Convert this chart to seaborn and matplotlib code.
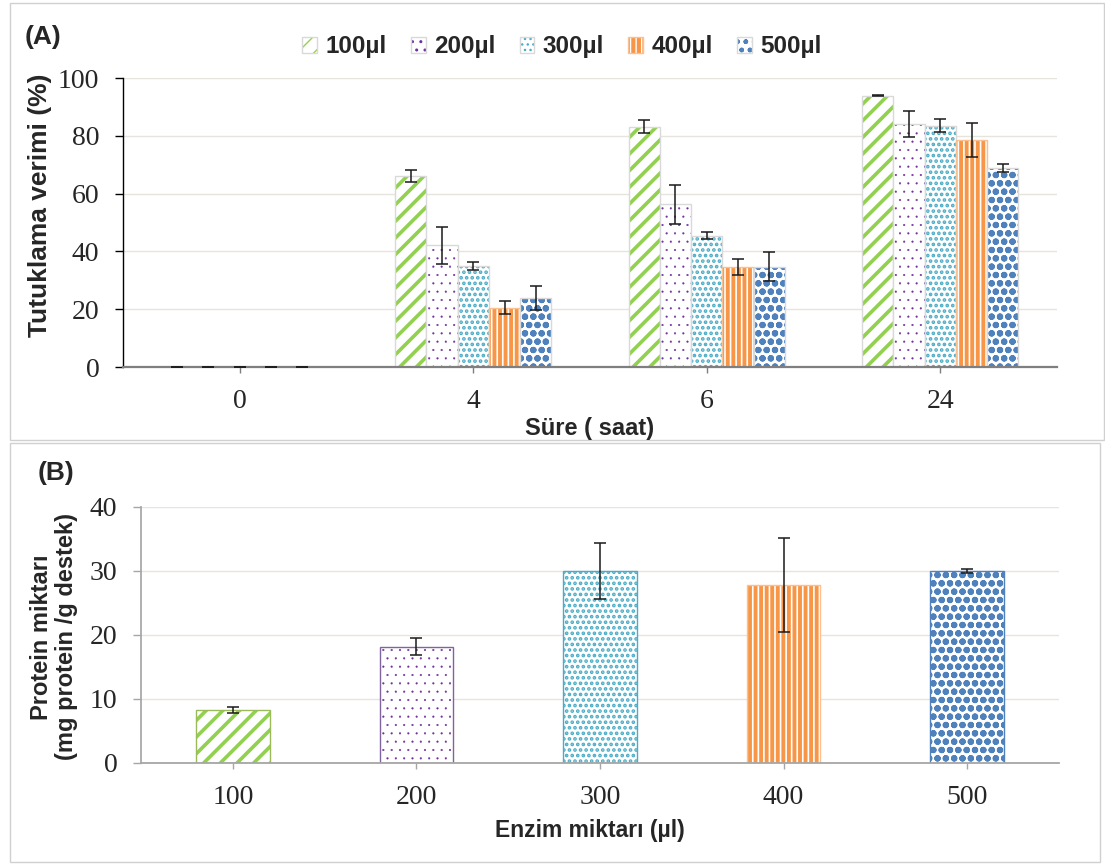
import matplotlib
matplotlib.use("Agg")
import matplotlib.pyplot as plt
import seaborn as sns
import pandas as pd
import numpy as np
from matplotlib.colors import to_rgba
from matplotlib.patches import Patch, Rectangle

# ---------------- data ----------------
times = ["0", "4", "6", "24"]
doses = ["100µl", "200µl", "300µl", "400µl", "500µl"]
y100 = [0, 66.0, 83.1, 93.9]
y200 = [0, 42.2, 56.3, 84.1]
y300 = [0, 35.0, 45.4, 83.5]
y400 = [0, 20.5, 34.7, 78.5]
y500 = [0, 23.8, 34.7, 68.8]
e100 = [0, 2.0, 2.3, 0.3]
e200 = [0, 6.4, 6.8, 4.4]
e300 = [0, 1.5, 1.2, 2.3]
e400 = [0, 2.2, 2.7, 5.8]
e500 = [0, 4.1, 5.1, 1.3]

enzyme = ["100", "200", "300", "400", "500"]
protein = [8.3, 18.2, 30.0, 27.8, 30.0]
protein_err = [0.5, 1.3, 4.3, 7.3, 0.35]

yields = [y100, y200, y300, y400, y500]
errs = [e100, e200, e300, e400, e500]

# ---------------- styles ----------------
# face, hatch, hatch colour, edge (A), edge (B), hatch linewidth
styles = [
    ("white", "//", "#92D050", "#D9D9D9", "#9BBB59", 2.6),
    ("white", "..", "#7030A0", "#D9D9D9", "#8064A2", 0.3),
    ("white", "...", "#4BACC6", "#D9D9D9", "#4BACC6", 1.8),
    ("#F79646", "|||", "white", "#FAC090", "#FAC090", 1.2),
    ("white", "oo..", "#4F81BD", "#D9D9D9", "#4F81BD", 2.2),
]


def style_patch(p, st, panel):
    face, hatch, hcol, eA, eB, hlw = st
    p.set_facecolor(face)
    p.set_edgecolor(eA if panel == "A" else eB)
    p.set_linewidth(1.0)
    p.set_hatch(hatch)
    if hasattr(p, "set_hatchcolor"):
        p.set_hatchcolor(hcol)
    else:
        p._hatch_color = to_rgba(hcol)
    if hasattr(p, "set_hatch_linewidth"):
        p.set_hatch_linewidth(hlw)
    else:
        p._hatch_linewidth = hlw


sns.set_theme(style="white")
plt.rcParams["font.family"] = ["Liberation Sans", "DejaVu Sans"]
serif = ["Liberation Serif", "DejaVu Serif"]
grid_col = "#E6E4DC"
TICK_FS = 20

fig = plt.figure(figsize=(11.05, 8.64), dpi=100)

# panel frames
fig.add_artist(Rectangle((10 / 1105, 1 - 440 / 864), 1094 / 1105, 437 / 864,
                         transform=fig.transFigure, fill=False,
                         edgecolor="#D0D0D0", lw=1.0))
fig.add_artist(Rectangle((10 / 1105, 1 - 862 / 864), 1090 / 1105, 419 / 864,
                         transform=fig.transFigure, fill=False,
                         edgecolor="#D0D0D0", lw=1.0))

# ---------------- Panel A ----------------
axA = fig.add_axes([123 / 1105, 1 - 367 / 864, 934 / 1105, 289 / 864])
rows = []
for d, ys in zip(doses, yields):
    for t, v in zip(times, ys):
        rows.append({"time": t, "dose": d, "value": v})
dfA = pd.DataFrame(rows)
sns.barplot(data=dfA, x="time", y="value", hue="dose", order=times,
            hue_order=doses, errorbar=None, width=0.67, gap=0,
            legend=False, ax=axA)
for cont, st, er in zip(axA.containers, styles, errs):
    xs, hs = [], []
    for p in cont.patches:
        style_patch(p, st, "A")
        xs.append(p.get_x() + p.get_width() / 2)
        hs.append(p.get_height())
    axA.errorbar(xs, hs, yerr=er, fmt="none", ecolor="#1a1a1a",
                 elinewidth=1.1, capsize=4.5, capthick=1.1, zorder=5)

axA.set_ylim(0, 100)
axA.set_xlim(-0.5, 3.5)
axA.set_yticks([0, 20, 40, 60, 80, 100])
axA.yaxis.grid(True, color=grid_col, lw=1.0)
axA.set_axisbelow(True)
for s in ["top", "right"]:
    axA.spines[s].set_visible(False)
axA.spines["left"].set_color("#000000")
axA.spines["left"].set_linewidth(1.0)
axA.spines["bottom"].set_color("#7F7F7F")
axA.spines["bottom"].set_linewidth(1.6)
axA.tick_params(axis="y", left=True, length=6, width=1.0, color="black",
                labelsize=TICK_FS, pad=11)
axA.tick_params(axis="x", bottom=True, length=4, width=1.0, color="#7F7F7F",
                labelsize=TICK_FS, pad=12)
for lab in axA.get_xticklabels() + axA.get_yticklabels():
    lab.set_family(serif)
axA.set_xlabel("")
axA.set_ylabel("")
fig.text(40 / 1105, 1 - 205 / 864, "Tutuklama verimi (%)", rotation=90,
         ha="center", va="center", fontsize=19, fontweight="bold")
fig.text(590 / 1105, 1 - 428 / 864, "Süre ( saat)", ha="center",
         va="center", fontsize=17, fontweight="bold")
fig.text(25 / 1105, 1 - 37 / 864, "(A)", ha="left", va="center",
         fontsize=19, fontweight="bold")

handles = []
for st in styles:
    hp = Patch(label="x")
    style_patch(hp, st, "A")
    handles.append(hp)
fig.legend(handles, doses, loc="center", bbox_to_anchor=(562 / 1105, 1 - 47 / 864),
           ncol=5, frameon=False, handlelength=0.6, handleheight=0.6,
           handletextpad=0.35, columnspacing=1.0,
           prop={"weight": "bold", "size": 17.5})

# ---------------- Panel B ----------------
axB = fig.add_axes([141 / 1105, 1 - 763 / 864, 918 / 1105, 256 / 864])
dfB = pd.DataFrame({"enzyme": enzyme, "protein": protein})
sns.barplot(data=dfB, x="enzyme", y="protein", hue="enzyme", order=enzyme,
            hue_order=enzyme, errorbar=None, width=0.4, legend=False, ax=axB)
bx, bh = [], []
for cont, st in zip(axB.containers, styles):
    for p in cont.patches:
        style_patch(p, st, "B")
        bx.append(p.get_x() + p.get_width() / 2)
        bh.append(p.get_height())
axB.errorbar(bx, bh, yerr=protein_err, fmt="none", ecolor="#1a1a1a",
             elinewidth=1.1, capsize=4.5, capthick=1.1, zorder=5)
axB.set_ylim(0, 40)
axB.set_xlim(-0.5, 4.5)
axB.set_yticks([0, 10, 20, 30, 40])
axB.yaxis.grid(True, color=grid_col, lw=1.0)
axB.set_axisbelow(True)
for s in ["top", "right"]:
    axB.spines[s].set_visible(False)
axB.spines["left"].set_color("#A6A6A6")
axB.spines["bottom"].set_color("#A6A6A6")
axB.spines["bottom"].set_linewidth(1.3)
axB.tick_params(axis="y", left=True, length=6, width=1.0, color="#A6A6A6",
                labelsize=TICK_FS, pad=11)
axB.tick_params(axis="x", bottom=True, length=4.5, width=1.0, color="#A6A6A6",
                labelsize=TICK_FS, pad=11)
for lab in axB.get_xticklabels() + axB.get_yticklabels():
    lab.set_family(serif)
axB.set_xlabel("")
axB.set_ylabel("")
fig.text(54 / 1105, 1 - 637 / 864, "Protein miktarı\n(mg protein /g destek)",
         rotation=90, ha="center", va="center", fontsize=17,
         fontweight="bold", linespacing=1.15)
fig.text(590 / 1105, 1 - 830 / 864, "Enzim miktarı (µl)", ha="center",
         va="center", fontsize=16.5, fontweight="bold")
fig.text(38 / 1105, 1 - 473 / 864, "(B)", ha="left", va="center",
         fontsize=19, fontweight="bold")

fig.savefig("out.png", dpi=100)
